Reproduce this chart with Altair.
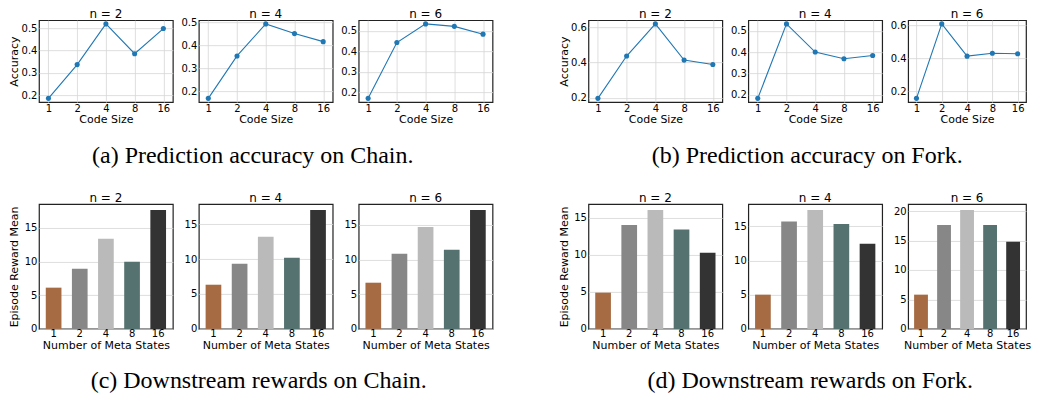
import altair as alt
import pandas as pd

# ---------------- data ----------------
code_sizes = [1, 2, 4, 8, 16]
meta_states = ["1", "2", "4", "8", "16"]
n_values = [2, 4, 6]

chain_acc_n2 = [0.185, 0.337, 0.520, 0.386, 0.499]
chain_acc_n4 = [0.169, 0.353, 0.492, 0.450, 0.415]
chain_acc_n6 = [0.170, 0.442, 0.533, 0.521, 0.483]

fork_acc_n2 = [0.196, 0.437, 0.620, 0.414, 0.389]
fork_acc_n4 = [0.183, 0.532, 0.400, 0.369, 0.384]
fork_acc_n6 = [0.159, 0.607, 0.413, 0.430, 0.427]

chain_rew_n2 = [6.12, 8.93, 13.37, 9.97, 17.66]
chain_rew_n4 = [6.33, 9.33, 13.19, 10.19, 17.05]
chain_rew_n6 = [6.65, 10.81, 14.69, 11.39, 17.13]

fork_rew_n2 = [4.88, 14.00, 16.02, 13.38, 10.25]
fork_rew_n4 = [5.00, 15.68, 17.38, 15.34, 12.43]
fork_rew_n6 = [5.81, 17.65, 20.19, 17.65, 14.78]

chain_acc_ticks = [[0.2, 0.3, 0.4, 0.5], [0.2, 0.3, 0.4, 0.5], [0.2, 0.3, 0.4, 0.5]]
fork_acc_ticks = [[0.2, 0.4, 0.6], [0.2, 0.3, 0.4, 0.5], [0.2, 0.4, 0.6]]
chain_rew_ticks = [[0, 5, 10, 15], [0, 5, 10, 15], [0, 5, 10, 15]]
fork_rew_ticks = [[0, 5, 10, 15], [0, 5, 10, 15], [0, 5, 10, 15, 20]]

captions = [
    "(a) Prediction accuracy on Chain.",
    "(b) Prediction accuracy on Fork.",
    "(c) Downstream rewards on Chain.",
    "(d) Downstream rewards on Fork.",
]

# ---------------- style ----------------
bar_colors = ["#a66b43", "#878787", "#bababa", "#567270", "#333333"]
line_color = "#1f77b4"
PW = 134
PW_LAST = 118
H1 = 82
H2 = 125
SANS = "DejaVu Sans"
SERIF = "Liberation Serif"


def margin_domain(vals, frac=0.05):
    lo, hi = min(vals), max(vals)
    m = (hi - lo) * frac
    return [lo - m, hi + m]


def title_layer(n, w):
    return alt.Chart(pd.DataFrame({"title": [f"n = {n}"]})).mark_text(
        font=SANS, fontSize=12, align="center", baseline="alphabetic", color="black"
    ).encode(x=alt.value(w / 2), y=alt.value(-2), text="title:N")


def caption_layer(text, cx, cy):
    return alt.Chart(pd.DataFrame({"caption": [text]})).mark_text(
        font=SERIF, fontSize=24, align="center", baseline="middle", color="black"
    ).encode(x=alt.value(cx), y=alt.value(cy), text="caption:N")


def line_panel(vals, n, ticks, first, caption=None, w=PW):
    df = pd.DataFrame({"size": code_sizes, "acc": vals})
    x = alt.X(
        "size:Q",
        scale=alt.Scale(type="log", base=2, domain=[2 ** -0.33, 2 ** 4.33], nice=False),
        axis=alt.Axis(values=code_sizes, format="d", title="Code Size",
                      labelPadding=1, titlePadding=0, grid=True),
    )
    yaxis = dict(values=ticks, format=".1f", grid=True, labelPadding=2)
    if first:
        yaxis.update(title="Accuracy", titleX=-21, titleBaseline="alphabetic")
    else:
        yaxis.update(title="")
    y = alt.Y("acc:Q", scale=alt.Scale(domain=margin_domain(vals), nice=False, zero=False),
              axis=alt.Axis(**yaxis))
    base = alt.Chart(df).encode(x=x, y=y)
    layers = [
        base.mark_line(color=line_color, strokeWidth=1.1),
        base.mark_circle(color=line_color, size=26, opacity=1),
        title_layer(n, w),
    ]
    if caption is not None:
        layers.append(caption_layer(*caption))
    return alt.layer(*layers).properties(width=w, height=H1)


def bar_panel(vals, n, ticks, first, caption=None, w=PW):
    df = pd.DataFrame({"states": meta_states, "reward": vals})
    x = alt.X(
        "states:N", sort=meta_states,
        scale=alt.Scale(paddingInner=0.4, paddingOuter=0.26),
        axis=alt.Axis(labelAngle=0, title="Number of Meta States", grid=False,
                      labelPadding=0, titlePadding=1),
    )
    yaxis = dict(values=ticks, format="d", grid=True, labelPadding=2)
    if first:
        yaxis.update(title="Episode Reward Mean", titleX=-21, titleBaseline="alphabetic")
    else:
        yaxis.update(title="")
    y = alt.Y("reward:Q", scale=alt.Scale(domain=[0, max(vals) * 1.05], nice=False),
              axis=alt.Axis(**yaxis))
    bars = alt.Chart(df).mark_bar().encode(
        x=x, y=y,
        color=alt.Color("states:N", scale=alt.Scale(domain=meta_states, range=bar_colors), legend=None),
    )
    layers = [bars, title_layer(n, w)]
    if caption is not None:
        layers.append(caption_layer(*caption))
    return alt.layer(*layers).properties(width=w, height=H2)


def spacer(h):
    return alt.Chart(pd.DataFrame({"s": [0]})).mark_point(opacity=0, size=1).encode(
        x=alt.value(20), y=alt.value(20)
    ).properties(width=44, height=h, view=alt.ViewBackground(stroke="transparent"))


row1 = [
    line_panel(chain_acc_n2, n_values[0], chain_acc_ticks[0], True),
    line_panel(chain_acc_n4, n_values[1], chain_acc_ticks[1], False, (captions[0], 54, 136)),
    line_panel(chain_acc_n6, n_values[2], chain_acc_ticks[2], False),
    spacer(H1),
    line_panel(fork_acc_n2, n_values[0], fork_acc_ticks[0], True),
    line_panel(fork_acc_n4, n_values[1], fork_acc_ticks[1], False, (captions[1], 59, 136)),
    line_panel(fork_acc_n6, n_values[2], fork_acc_ticks[2], False, w=PW_LAST),
]
row2 = [
    bar_panel(chain_rew_n2, n_values[0], chain_rew_ticks[0], True),
    bar_panel(chain_rew_n4, n_values[1], chain_rew_ticks[1], False, (captions[2], 60, 177)),
    bar_panel(chain_rew_n6, n_values[2], chain_rew_ticks[2], False),
    spacer(H2),
    bar_panel(fork_rew_n2, n_values[0], fork_rew_ticks[0], True),
    bar_panel(fork_rew_n4, n_values[1], fork_rew_ticks[1], False, (captions[3], 62, 177)),
    bar_panel(fork_rew_n6, n_values[2], fork_rew_ticks[2], False, w=PW_LAST),
]

chart = alt.concat(
    *row1, *row2, columns=7, spacing={"row": 102, "column": 26}, bounds="flush", align="each"
).properties(
    padding={"top": -1, "left": 0, "right": 0, "bottom": 0}
).configure_view(
    stroke="#222222", strokeWidth=1.2
).configure_axis(
    labelFont=SANS, labelFontSize=10, labelColor="black",
    titleFont=SANS, titleFontSize=11, titleFontWeight="normal", titleColor="black",
    domain=False, ticks=False, tickSize=0, gridColor="#d6d6d6", gridWidth=0.8,
)

chart.save("out.html", embed_options={"renderer": "svg", "actions": False})
